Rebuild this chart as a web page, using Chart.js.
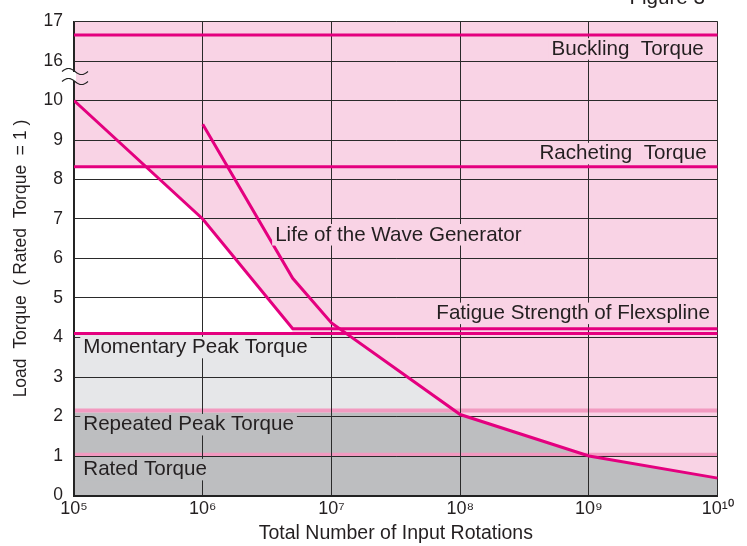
<!DOCTYPE html>
<html>
<head>
<meta charset="utf-8">
<script src="https://cdn.jsdelivr.net/npm/chart.js@4.4.1/dist/chart.umd.min.js"></script>
<style>
  html, body { margin: 0; padding: 0; background: #fff; }
  #wrap { width: 747px; height: 546px; }
</style>
</head>
<body>
<div id="wrap"><canvas id="torqueChart" width="747" height="546"></canvas></div>
<script>
// x = total number of input rotations, y = load torque (rated torque = 1)
const xTicks = [1e5, 1e6, 1e7, 1e8, 1e9, 1e10];
const xTickLabels = ["10⁵", "10⁶", "10⁷", "10⁸", "10⁹", "10¹⁰"];
const yTickLabels = ["0", "1", "2", "3", "4", "5", "6", "7", "8", "9", "10", "16", "17"];

const bucklingTorque = [[1e5, 16.66], [1e10, 16.66]];
const rachetingTorque = [[1e5, 8.32], [1e10, 8.32]];
const flexsplineFatigue = [[1e5, 10], [1e6, 7], [5e6, 4.22], [1e10, 4.22]];
const waveGeneratorLife = [[1e6, 9.4], [5e6, 5.5], [1e7, 4.37], [1e8, 2.05], [1e9, 1.0], [1e10, 0.44]];
const momentaryPeak = [[1e5, 4.1], [1e10, 4.1]];
const repeatedPeakBand = [[1e5, 2.2], [1e10, 2.2]];
const ratedTorqueBand = [[1e5, 1.08], [1e10, 1.08]];

// shaded zones
const topZone = [[1e5, 17], [1e10, 17]];
const whiteZone = [[1e5, 8.32], [3.7e5, 8.32], [1e6, 7], [5e6, 4.22]];
const momentaryZone = [[1e5, 4.1], [1.3e7, 4.1], [1e8, 2.05], [1e9, 1.0], [1e10, 0.44]];
const repeatedZone = [[1e5, 2.1], [9.5e7, 2.1], [1e8, 2.05], [1e9, 1.0], [1e10, 0.44]];

const PINK = "#f9d3e5";
const MAGENTA = "#e4007f";
const BAND = "#f29ac0";
const LIGHT_GRAY = "#e6e7e9";
const DARK_GRAY = "#bdbec0";
const TEXT = "#231f20";
const FONT = "'Liberation Sans', Arial, Helvetica, sans-serif";

// y axis is broken between 10 and 16
const ax = (v) => (v > 10 ? v - 5 : v);
const pts = (arr) => arr.map(([x, y]) => ({ x: x, y: ax(y) }));

const zone = (data, color, fill) => ({
  data: pts(data),
  backgroundColor: color,
  borderColor: "rgba(0,0,0,0)",
  borderWidth: 0,
  pointRadius: 0,
  fill: fill,
});
const curve = (data) => ({
  data: pts(data),
  borderColor: MAGENTA,
  borderWidth: 3,
  borderJoinStyle: "miter",
  pointRadius: 0,
  fill: false,
});

const annotations = [
  { text: "Buckling  Torque", x: 7.8e9, y: 16.16, align: "right", bg: PINK },
  { text: "Racheting  Torque", x: 8.2e9, y: 8.51, align: "right", bg: PINK },
  { text: "Life of the Wave Generator", x: 3.65e6, y: 6.455, align: "left", bg: PINK },
  { text: "Fatigue Strength of Flexspline", x: 8.7e9, y: 4.465, align: "right", bg: PINK },
  { text: "Momentary Peak Torque", x: 1.18e5, y: 3.6, align: "left", bg: LIGHT_GRAY },
  { text: "Repeated Peak Torque", x: 1.18e5, y: 1.647, align: "left", bg: DARK_GRAY },
  { text: "Rated Torque", x: 1.18e5, y: 0.51, align: "left", bg: DARK_GRAY },
];

const labelPlugin = {
  id: "labels",
  afterDraw(chart) {
    const { ctx, chartArea, scales } = chart;
    ctx.save();
    ctx.font = "20.6px " + FONT;
    ctx.textBaseline = "alphabetic";
    annotations.forEach((a) => {
      const px = scales.x.getPixelForValue(a.x);
      const py = scales.y.getPixelForValue(ax(a.y));
      const w = ctx.measureText(a.text).width;
      const left = a.align === "right" ? px - w : px;
      ctx.fillStyle = a.bg;
      ctx.fillRect(left - 3, py - 16.5, w + 6, 21.5);
      ctx.fillStyle = TEXT;
      ctx.textAlign = "left";
      ctx.fillText(a.text, left, py);
    });

    // axis break mark
    const x0 = chartArea.left;
    const y16 = scales.y.getPixelForValue(ax(16));
    ctx.fillStyle = "#fff";
    ctx.fillRect(x0 - 2, y16 + 11, 4, 9);
    ctx.strokeStyle = "#222";
    ctx.lineWidth = 1.2;
    [y16 + 10.5, y16 + 20.5].forEach((yc) => {
      ctx.beginPath();
      for (let i = 0; i <= 26; i++) {
        const t = i / 26;
        const yy = yc - 3 * Math.sin(2 * Math.PI * t);
        if (i === 0) ctx.moveTo(x0 - 12 + 26 * t, yy);
        else ctx.lineTo(x0 - 12 + 26 * t, yy);
      }
      ctx.stroke();
    });

    ctx.font = "20.6px " + FONT;
    ctx.fillStyle = TEXT;
    ctx.textAlign = "right";
    ctx.fillText("Figure 3", 705, 4);
    ctx.restore();
  },
};

new Chart(document.getElementById("torqueChart"), {
  type: "line",
  data: {
    datasets: [
      zone(repeatedPeakBand, BAND, { value: 2.1 }),
      zone(ratedTorqueBand, BAND, { value: 1.0 }),
      zone(repeatedZone, DARK_GRAY, "origin"),
      zone(momentaryZone, LIGHT_GRAY, "origin"),
      zone(whiteZone, "#ffffff", { value: 4.1 }),
      zone(topZone, PINK, "origin"),
      curve(bucklingTorque),
      curve(rachetingTorque),
      curve(flexsplineFatigue),
      curve(waveGeneratorLife),
      curve(momentaryPeak),
    ],
  },
  options: {
    responsive: false,
    animation: false,
    devicePixelRatio: 1,
    layout: { padding: { left: 0, right: 29.3, top: 13.3, bottom: 0 } },
    plugins: {
      legend: { display: false },
      tooltip: { enabled: false },
      filler: { propagate: false, drawTime: "beforeDraw" },
    },
    scales: {
      x: {
        type: "logarithmic",
        min: 1e5,
        max: 1e10,
        afterBuildTicks: (scale) => {
          scale.ticks = xTicks.map((v) => ({ value: v }));
        },
        afterFit: (scale) => {
          scale.height = 50.5;
        },
        grid: { color: "#2a2a2a", lineWidth: 1, drawTicks: false },
        border: { color: "#222", width: 2 },
        ticks: {
          autoSkip: false,
          maxRotation: 0,
          padding: 2.5,
          color: TEXT,
          font: { family: FONT, size: 18 },
          callback: (v) => xTickLabels[xTicks.indexOf(v)],
        },
        title: {
          display: true,
          text: "Total Number of Input Rotations",
          color: TEXT,
          font: { family: FONT, size: 19.5 },
          padding: { top: 0, bottom: 0.4 },
        },
      },
      y: {
        min: 0,
        max: 12,
        afterFit: (scale) => {
          scale.width = 74;
        },
        grid: { color: "#2a2a2a", lineWidth: 1, drawTicks: false },
        border: { color: "#222", width: 1.5 },
        ticks: {
          stepSize: 1,
          padding: 11,
          color: TEXT,
          font: { family: FONT, size: 17.5 },
          callback: (v) => yTickLabels[v],
        },
        title: {
          display: true,
          text: "Load  Torque  ( Rated  Torque  = 1 )",
          color: TEXT,
          font: { family: FONT, size: 17.5 },
          padding: { top: 10.5, bottom: 0 },
        },
      },
    },
  },
  plugins: [labelPlugin],
});
</script>
</body>
</html>
